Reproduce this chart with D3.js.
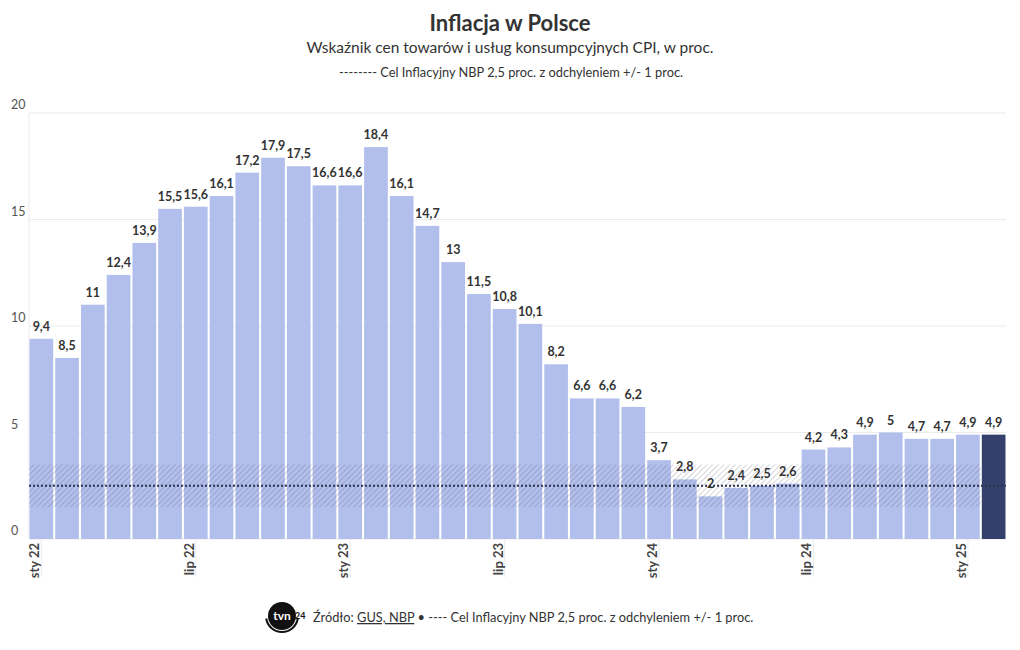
<!DOCTYPE html>
<html>
<head>
<meta charset="utf-8">
<script src="https://cdn.jsdelivr.net/npm/d3@7"></script>
<style>
  body { margin: 0; background: #fff; }
  svg text { font-family: Lato, "Open Sans", sans-serif; }
</style>
</head>
<body>
<div id="chart"></div>
<script>
var width = 1020;
var height = 650;

// months Jan 2022 - Feb 2025
var months = ["sty 22","lut 22","mar 22","kwi 22","maj 22","cze 22","lip 22","sie 22","wrz 22","paź 22","lis 22","gru 22",
              "sty 23","lut 23","mar 23","kwi 23","maj 23","cze 23","lip 23","sie 23","wrz 23","paź 23","lis 23","gru 23",
              "sty 24","lut 24","mar 24","kwi 24","maj 24","cze 24","lip 24","sie 24","wrz 24","paź 24","lis 24","gru 24",
              "sty 25","lut 25"];
var cpi = [9.4, 8.5, 11, 12.4, 13.9, 15.5, 15.6, 16.1, 17.2, 17.9, 17.5, 16.6,
           16.6, 18.4, 16.1, 14.7, 13, 11.5, 10.8, 10.1, 8.2, 6.6, 6.6, 6.2,
           3.7, 2.8, 2, 2.4, 2.5, 2.6, 4.2, 4.3, 4.9, 5, 4.7, 4.7,
           4.9, 4.9];
var tickLabels = ["sty 22","lip 22","sty 23","lip 23","sty 24","lip 24","sty 25"];
var yTicks = [0, 5, 10, 15, 20];
var target = 2.5;
var targetBand = [1.5, 3.5];

var svg = d3.select("#chart")
    .append("svg")
    .attr("width", width)
    .attr("height", height);

var defs = svg.append("defs");
var pat = defs.append("pattern")
    .attr("id", "hatch")
    .attr("patternUnits", "userSpaceOnUse")
    .attr("width", 4)
    .attr("height", 4)
    .attr("patternTransform", "rotate(45)");
pat.append("line")
    .attr("x1", 0).attr("y1", 0)
    .attr("x2", 0).attr("y2", 4)
    .attr("stroke", "rgba(70,70,90,0.45)")
    .attr("stroke-width", 1);

var x = d3.scaleBand()
    .domain(months)
    .range([29, 1006])
    .paddingInner(0.08)
    .paddingOuter(0.02);

var y = d3.scaleLinear()
    .domain([0, 20])
    .range([539, 113]);

// gridlines
svg.append("g")
    .selectAll("line")
    .data(yTicks)
    .enter()
    .append("line")
    .attr("x1", 29)
    .attr("x2", 1006)
    .attr("y1", function(d) { return y(d); })
    .attr("y2", function(d) { return y(d); })
    .attr("stroke", "#ebebeb");

svg.append("line")
    .attr("x1", 29).attr("x2", 29)
    .attr("y1", y(20)).attr("y2", y(0))
    .attr("stroke", "#ebebeb");

svg.append("g")
    .selectAll("text")
    .data(yTicks)
    .enter()
    .append("text")
    .attr("x", 11)
    .attr("y", function(d) { return y(d) - 4; })
    .attr("font-size", 12.5)
    .attr("fill", "#555")
    .text(function(d) { return d; });

// x axis
var xAxis = svg.append("g")
    .attr("transform", "translate(0," + y(0) + ")")
    .call(d3.axisBottom(x).tickValues(tickLabels).tickSize(38).tickSizeOuter(0));
xAxis.select(".domain").remove();
xAxis.selectAll(".tick line").attr("stroke", "#ececec");
xAxis.selectAll(".tick text")
    .attr("transform", "rotate(-90)")
    .attr("text-anchor", "end")
    .attr("x", -4)
    .attr("y", -2)
    .attr("dy", 0)
    .attr("font-size", 13)
    .attr("font-weight", "bold")
    .attr("font-family", "Lato, sans-serif")
    .attr("fill", "#444");

// bars
svg.append("g")
    .selectAll("rect")
    .data(cpi)
    .enter()
    .append("rect")
    .attr("x", function(d, i) { return x(months[i]); })
    .attr("y", function(d) { return y(d); })
    .attr("width", x.bandwidth())
    .attr("height", function(d) { return y(0) - y(d); })
    .attr("fill", function(d, i) { return i == cpi.length - 1 ? "#33406b" : "#b2bfec"; });

// target band
var bandEnd = x(months[months.length - 1]) - 1;
svg.append("rect")
    .attr("x", 29)
    .attr("y", y(targetBand[1]))
    .attr("width", bandEnd - 29)
    .attr("height", y(targetBand[0]) - y(targetBand[1]))
    .attr("fill", "url(#hatch)");

svg.append("line")
    .attr("x1", 29)
    .attr("x2", 1006)
    .attr("y1", y(target))
    .attr("y2", y(target))
    .attr("stroke", "#2b3350")
    .attr("stroke-width", 2)
    .attr("stroke-dasharray", "2,2");

// value labels
svg.append("g")
    .selectAll("text")
    .data(cpi)
    .enter()
    .append("text")
    .attr("x", function(d, i) { return x(months[i]) + x.bandwidth() / 2; })
    .attr("y", function(d) { return y(d) - 8; })
    .attr("text-anchor", "middle")
    .attr("font-size", 12.5)
    .attr("font-weight", "bold")
    .attr("fill", "#333")
    .text(function(d) { return String(d).replace(".", ","); });

// titles
svg.append("text")
    .attr("x", 510).attr("y", 31)
    .attr("text-anchor", "middle")
    .attr("font-size", 22)
    .attr("font-weight", "bold")
    .attr("fill", "#333")
    .text("Inflacja w Polsce");

svg.append("text")
    .attr("x", 510).attr("y", 53)
    .attr("text-anchor", "middle")
    .attr("font-size", 15.5)
    .attr("fill", "#333")
    .text("Wskaźnik cen towarów i usług konsumpcyjnych CPI, w proc.");

svg.append("text")
    .attr("x", 511).attr("y", 77)
    .attr("text-anchor", "middle")
    .attr("font-size", 12.8)
    .attr("fill", "#333")
    .text("-------- Cel Inflacyjny NBP 2,5 proc. z odchyleniem +/- 1 proc.");

// footer logo
var logo = svg.append("g").attr("transform", "translate(282,616)");
logo.append("path")
    .attr("d", d3.arc()({innerRadius: 15, outerRadius: 17, startAngle: Math.PI * 0.55, endAngle: Math.PI * 1.45}))
    .attr("fill", "#111");
logo.append("circle").attr("r", 14).attr("fill", "#111");
logo.append("text")
    .attr("x", 0).attr("y", 4)
    .attr("text-anchor", "middle")
    .attr("font-size", 12)
    .attr("font-weight", "bold")
    .attr("fill", "#fff")
    .text("tvn");
logo.append("text")
    .attr("x", 13).attr("y", 3)
    .attr("font-size", 9)
    .attr("font-weight", "bold")
    .attr("fill", "#111")
    .text("24");

var foot = svg.append("text")
    .attr("x", 313).attr("y", 622)
    .attr("font-size", 12.8)
    .attr("fill", "#333");
foot.append("tspan").text("Źródło: ");
foot.append("tspan").attr("text-decoration", "underline").text("GUS, NBP");
foot.append("tspan").text(" • ---- Cel Inflacyjny NBP 2,5 proc. z odchyleniem +/- 1 proc.");
</script>
</body>
</html>
